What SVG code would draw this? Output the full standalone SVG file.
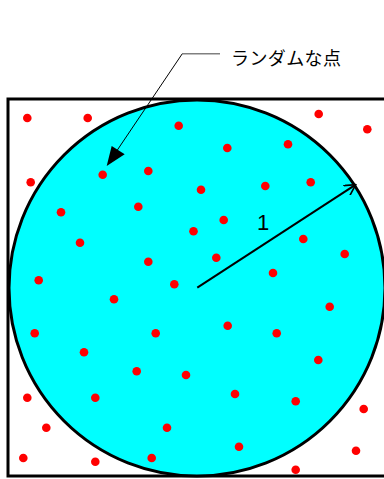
<svg xmlns="http://www.w3.org/2000/svg" width="384" height="479" viewBox="0 0 384 479">
<defs>
<style>
.dot{fill:#ff0000}
.lbl{font-family:"Noto Sans CJK JP","Liberation Sans",sans-serif;font-size:18px;fill:#000}
.num{font-family:"Liberation Sans",Arial,sans-serif;font-size:22px;fill:#000}
</style>
<marker id="open" viewBox="0 0 12 12" refX="11" refY="6" markerWidth="12" markerHeight="12" markerUnits="userSpaceOnUse" orient="auto">
<path d="M0,0 L11,6 L0,12" fill="none" stroke="#000" stroke-width="1.6"/>
</marker>
</defs>
<rect width="384" height="479" fill="#fff"/>
<g id="square"><rect x="8" y="99" width="379" height="377" fill="none" stroke="#000" stroke-width="3"/></g>
<g id="circle"><circle cx="197" cy="288" r="188" fill="#00ffff" stroke="#000" stroke-width="3"/></g>
<g id="dots">
<circle class="dot" cx="27.3" cy="118" r="4.3"/>
<circle class="dot" cx="87.7" cy="118" r="4.3"/>
<circle class="dot" cx="178.7" cy="125.7" r="4.3"/>
<circle class="dot" cx="227.3" cy="148" r="4.3"/>
<circle class="dot" cx="288" cy="144.3" r="4.3"/>
<circle class="dot" cx="318.7" cy="114" r="4.3"/>
<circle class="dot" cx="367.3" cy="129.3" r="4.3"/>
<circle class="dot" cx="30.7" cy="182.3" r="4.3"/>
<circle class="dot" cx="102.7" cy="174.7" r="4.3"/>
<circle class="dot" cx="148.3" cy="171" r="4.3"/>
<circle class="dot" cx="201" cy="189.7" r="4.3"/>
<circle class="dot" cx="61" cy="212.3" r="4.3"/>
<circle class="dot" cx="138.3" cy="206.7" r="4.3"/>
<circle class="dot" cx="193.5" cy="231.3" r="4.3"/>
<circle class="dot" cx="80" cy="242.7" r="4.3"/>
<circle class="dot" cx="148.3" cy="261.7" r="4.3"/>
<circle class="dot" cx="38.7" cy="280.3" r="4.3"/>
<circle class="dot" cx="174.3" cy="284.3" r="4.3"/>
<circle class="dot" cx="114" cy="299.3" r="4.3"/>
<circle class="dot" cx="265.3" cy="186" r="4.3"/>
<circle class="dot" cx="310.7" cy="182.3" r="4.3"/>
<circle class="dot" cx="223.7" cy="220" r="4.3"/>
<circle class="dot" cx="303.3" cy="239" r="4.3"/>
<circle class="dot" cx="216.3" cy="257.7" r="4.3"/>
<circle class="dot" cx="273" cy="273" r="4.3"/>
<circle class="dot" cx="344.7" cy="254" r="4.3"/>
<circle class="dot" cx="329.7" cy="306.7" r="4.3"/>
<circle class="dot" cx="34.7" cy="333.3" r="4.3"/>
<circle class="dot" cx="155.7" cy="333.3" r="4.3"/>
<circle class="dot" cx="84" cy="352.3" r="4.3"/>
<circle class="dot" cx="136.7" cy="371.3" r="4.3"/>
<circle class="dot" cx="186" cy="375" r="4.3"/>
<circle class="dot" cx="27.3" cy="397.7" r="4.3"/>
<circle class="dot" cx="95.3" cy="397.7" r="4.3"/>
<circle class="dot" cx="46.3" cy="427.7" r="4.3"/>
<circle class="dot" cx="167" cy="427.7" r="4.3"/>
<circle class="dot" cx="23.3" cy="458" r="4.3"/>
<circle class="dot" cx="95.3" cy="461.7" r="4.3"/>
<circle class="dot" cx="151.7" cy="458" r="4.3"/>
<circle class="dot" cx="227.7" cy="325.7" r="4.3"/>
<circle class="dot" cx="276.7" cy="333.3" r="4.3"/>
<circle class="dot" cx="318.3" cy="360" r="4.3"/>
<circle class="dot" cx="235" cy="394" r="4.3"/>
<circle class="dot" cx="295.7" cy="401.3" r="4.3"/>
<circle class="dot" cx="363.7" cy="409" r="4.3"/>
<circle class="dot" cx="239" cy="446.7" r="4.3"/>
<circle class="dot" cx="356" cy="450.7" r="4.3"/>
<circle class="dot" cx="295.7" cy="469.7" r="4.3"/>
</g>
<g id="connectors">
<line x1="197.3" y1="287.7" x2="355.7" y2="184.7" stroke="#000" stroke-width="2" marker-end="url(#open)"/>
<polyline points="220,53.7 182.3,53.7" fill="none" stroke="#808080" stroke-width="1.5"/>
<line x1="182.3" y1="53.7" x2="116" y2="152" stroke="#000" stroke-width="1"/>
<polygon points="106.7,166 111.7,146 124.7,154.3" fill="#000"/>
</g>
<g id="labels">
<text class="num" x="257" y="229.5">1</text>
<text class="lbl" x="231" y="64.5" textLength="110">ランダムな点</text>
</g>
</svg>
